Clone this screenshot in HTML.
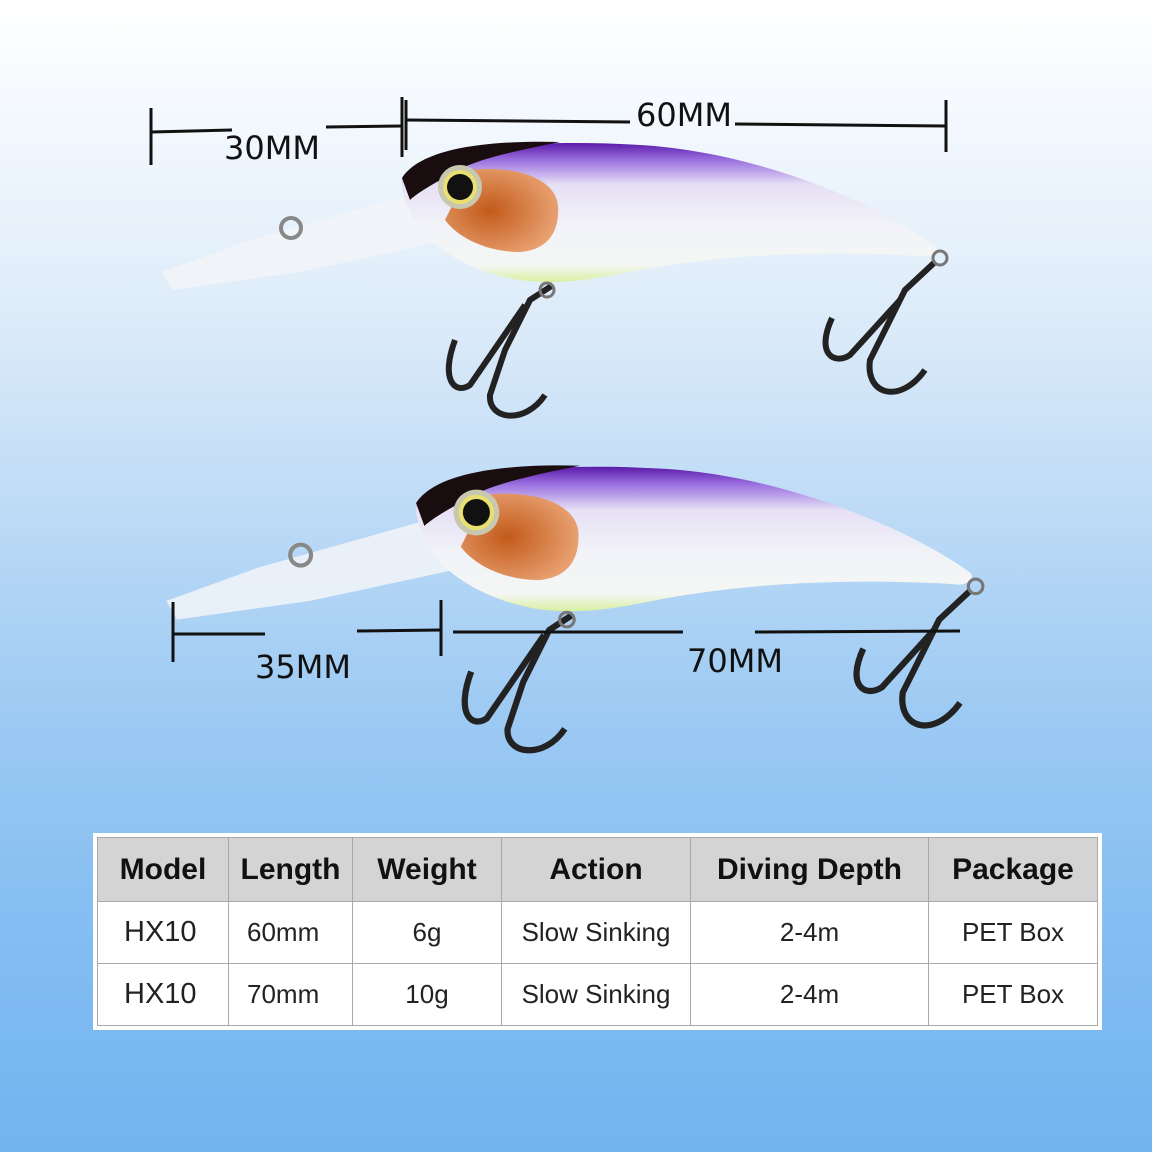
<!DOCTYPE html>
<html><head><meta charset="utf-8"><style>
html,body{margin:0;padding:0}
body{width:1152px;height:1152px;overflow:hidden;position:relative;font-family:"Liberation Sans",sans-serif;
background:linear-gradient(180deg,#ffffff 0%,#f6fafe 8%,#dcebf9 28%,#bcdaf6 45%,#9dcaf3 62%,#86bff2 78%,#72b4f0 100%);}
svg{position:absolute;left:0;top:0}
table{position:absolute;left:97px;top:837px;border-collapse:collapse;background:#fff;outline:4px solid #fff;}
td{border:1.5px solid #a8a8a8;text-align:center;font-size:26px;color:#222;height:61px;padding:0}
tr.h td{background:#d4d4d4;font-weight:bold;font-size:30px;color:#111;height:63px}
td.l{text-align:left;padding-left:26px}
td.m{text-align:left;padding-left:18px}
.dim{font-family:"DejaVu Sans",sans-serif;font-size:32px;fill:#111}
</style></head><body>
<svg width="1152" height="1152" viewBox="0 0 1152 1152">
<defs>
<linearGradient id="bd" x1="0" y1="0" x2="0" y2="1">
<stop offset="0" stop-color="#5a1aa8"/><stop offset="0.12" stop-color="#9a6fe0"/>
<stop offset="0.3" stop-color="#e6e0f5"/><stop offset="0.6" stop-color="#f2f3f8"/>
<stop offset="0.88" stop-color="#f4f6f4"/><stop offset="1" stop-color="#d8f0a0"/></linearGradient>
<radialGradient id="gill" cx="0.4" cy="0.5" r="0.6"><stop offset="0" stop-color="#c25a1a"/><stop offset="1" stop-color="#e8a070"/></radialGradient>
<g id="fish">
<path d="M410,195 L440,242 L300,272 L172,290 L162,272 L250,240 Z" fill="#f2f4f8" opacity="0.85"/>
<circle cx="291" cy="228" r="10" fill="none" stroke="#888" stroke-width="4"/>
<path d="M402,178 C420,150 520,138 640,145 C760,152 880,205 935,245 C940,252 930,258 920,256 C820,250 720,255 640,270 C590,280 560,285 520,280 C470,272 440,250 425,235 C410,215 400,195 402,178 Z" fill="url(#bd)"/>
<path d="M402,178 C420,150 480,140 560,142 C520,150 470,160 450,175 C430,185 415,195 410,200 Z" fill="#1a0d10"/>
<path d="M470,170 C520,165 555,180 558,205 C560,235 545,250 520,252 C490,252 460,240 445,220 Z" fill="url(#gill)"/>
<circle cx="460" cy="187" r="22" fill="#c8c8b0"/><circle cx="460" cy="187" r="17" fill="#e8e070"/><circle cx="460" cy="187" r="13" fill="#111"/>
<path d="M553,285 L530,300 L505,350 L490,395 C488,420 525,425 545,395" fill="none" stroke="#222" stroke-width="6"/>
<path d="M525,305 L470,385 C455,395 440,380 455,340" fill="none" stroke="#222" stroke-width="6"/>
<circle cx="547" cy="290" r="7" fill="none" stroke="#777" stroke-width="3"/>
<path d="M935,262 L905,290 L870,360 C865,395 900,405 925,370" fill="none" stroke="#222" stroke-width="6"/>
<path d="M900,300 L850,355 C835,365 815,355 832,318" fill="none" stroke="#222" stroke-width="6"/>
<circle cx="940" cy="258" r="7" fill="none" stroke="#777" stroke-width="3"/>
</g>
</defs>
<use href="#fish"/>
<use href="#fish" transform="translate(-2,318) scale(1.04)"/>
<g stroke="#111" stroke-width="3" fill="none">
<line x1="151" y1="108" x2="151" y2="165"/><line x1="151" y1="132" x2="232" y2="130"/><line x1="326" y1="127" x2="402" y2="126"/>
<line x1="402" y1="97" x2="402" y2="157"/><line x1="406" y1="100" x2="406" y2="150"/>
<line x1="406" y1="120" x2="630" y2="122"/><line x1="735" y1="124" x2="946" y2="126"/><line x1="946" y1="100" x2="946" y2="152"/>
<line x1="173" y1="602" x2="173" y2="662"/><line x1="173" y1="634" x2="265" y2="634"/><line x1="357" y1="631" x2="441" y2="630"/>
<line x1="441" y1="600" x2="441" y2="656"/><line x1="453" y1="632" x2="683" y2="632"/><line x1="755" y1="632" x2="960" y2="631"/>
</g>
<text class="dim" x="224" y="159">30MM</text>
<text class="dim" x="636" y="126">60MM</text>
<text class="dim" x="255" y="678">35MM</text>
<text class="dim" x="687" y="672">70MM</text>
</svg>
<table>
<tr class="h"><td style="width:130px">Model</td><td style="width:123px">Length</td><td style="width:148px">Weight</td><td style="width:188px">Action</td><td style="width:237px">Diving Depth</td><td style="width:168px">Package</td></tr>
<tr><td class="l" style="font-size:29px">HX10</td><td class="m">60mm</td><td>6g</td><td>Slow Sinking</td><td>2-4m</td><td>PET Box</td></tr>
<tr><td class="l" style="font-size:29px">HX10</td><td class="m">70mm</td><td>10g</td><td>Slow Sinking</td><td>2-4m</td><td>PET Box</td></tr>
</table>
</body></html>
